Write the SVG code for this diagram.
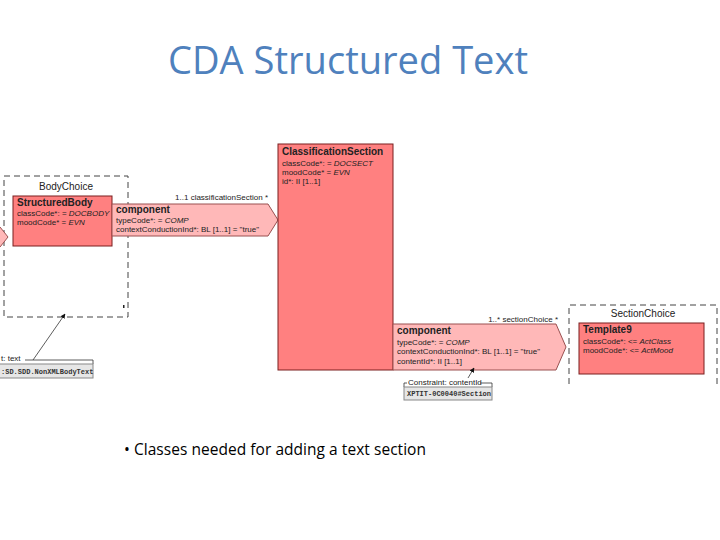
<svg xmlns="http://www.w3.org/2000/svg" width="720" height="540" viewBox="0 0 720 540">
<style>
.title{font-family:"Open Sans","Liberation Sans",sans-serif;font-size:38px;fill:#4F81BD}
.bullet{font-family:"Open Sans","Liberation Sans",sans-serif;font-size:15.5px;fill:#000}
.t{font-family:"Liberation Sans",Arial,sans-serif;font-size:8px;fill:#222}
.b{font-family:"Liberation Sans",Arial,sans-serif;font-size:10px;font-weight:bold;fill:#222}
.lbl{font-family:"Liberation Sans",Arial,sans-serif;font-size:10px;fill:#222}
.i{font-style:italic}
.m{font-family:"Liberation Mono","DejaVu Sans Mono",monospace;font-size:7px;font-weight:bold;fill:#333}
.cls{fill:#FF8080;stroke:#7a1f1f;stroke-width:1}
.assoc{fill:#FFB8B8;stroke:#9a5050;stroke-width:1}
.choice{fill:none;stroke:#444;stroke-width:1;stroke-dasharray:6,4}
.note{fill:#e6e6e6;stroke:#888;stroke-width:1}
.ln{stroke:#333;stroke-width:0.8;fill:none}
</style>
<defs>
<marker id="ah" viewBox="0 0 10 10" refX="9" refY="5" markerWidth="6" markerHeight="6" orient="auto">
<path d="M0,0 L10,5 L0,10 z" fill="#111"/>
</marker>
</defs>

<text class="title" x="348" y="74" text-anchor="middle" textLength="360" lengthAdjust="spacingAndGlyphs">CDA Structured Text</text>

<g id="bodyChoice">
<rect class="choice" x="4" y="176" width="124" height="141"/>
<text class="lbl" x="66" y="190" text-anchor="middle">BodyChoice</text>
<rect x="123" y="305" width="1.5" height="3" fill="#222"/>
</g>

<g id="leftArrowTip">
<path class="assoc" d="M-10,227 L0,227 L8,237 L0,247 L-10,247 z"/>
</g>

<g id="structuredBody">
<rect class="cls" x="13" y="196" width="99" height="50"/>
<text class="b" x="17" y="206">StructuredBody</text>
<text class="t" x="17" y="216">classCode*: = <tspan class="i">DOCBODY</tspan></text>
<text class="t" x="17" y="225">moodCode* = <tspan class="i">EVN</tspan></text>
</g>

<g id="component1">
<text class="t" x="268" y="200" text-anchor="end">1..1 classificationSection  *</text>
<path class="assoc" d="M112,204 L268,204 L278,220 L268,236 L112,236 z"/>
<text class="b" x="116" y="213">component</text>
<text class="t" x="116" y="223">typeCode*: = <tspan class="i">COMP</tspan></text>
<text class="t" x="116" y="232">contextConductionInd*: BL [1..1] = "true"</text>
</g>

<g id="classificationSection">
<rect class="cls" x="278" y="144" width="115" height="226"/>
<text class="b" x="282" y="155">ClassificationSection</text>
<text class="t" x="282" y="166">classCode*: = <tspan class="i">DOCSECT</tspan></text>
<text class="t" x="282" y="175">moodCode* = <tspan class="i">EVN</tspan></text>
<text class="t" x="282" y="184">id*: II [1..1]</text>
</g>

<g id="sectionChoice">
<path class="choice" d="M569,384 L569,305 L717,305 L717,384"/>
<text class="lbl" x="643" y="317" text-anchor="middle">SectionChoice</text>
</g>

<g id="template9">
<rect class="cls" x="579" y="323" width="125" height="51"/>
<text class="b" x="583" y="333">Template9</text>
<text class="t" x="583" y="344">classCode*: &lt;= <tspan class="i">ActClass</tspan></text>
<text class="t" x="583" y="353">moodCode*: &lt;= <tspan class="i">ActMood</tspan></text>
</g>

<g id="component2">
<text class="t" x="558" y="322" text-anchor="end">1..* sectionChoice  *</text>
<path class="assoc" d="M393,324 L556,324 L566,347 L556,370 L393,370 z"/>
<text class="b" x="397" y="334">component</text>
<text class="t" x="397" y="345">typeCode*: = <tspan class="i">COMP</tspan></text>
<text class="t" x="397" y="354">contextConductionInd*: BL [1..1] = "true"</text>
<text class="t" x="397" y="364">contentId*: II [1..1]</text>
</g>

<g id="noteContentId">
<path class="ln" d="M404,387 L404,383 L407,383"/>
<text class="t" x="408" y="385">Constraint: contentId</text>
<path class="ln" d="M480,383 L492,383 L492,387"/>
<rect class="note" x="404" y="387" width="88" height="13"/>
<text class="m" x="407" y="396">XPTIT-0C0040#Section</text>
</g>

<g id="noteText">
<text class="t" x="1" y="361">t: text</text>
<path class="ln" d="M25,360 L93,360 L93,364"/>
<rect class="note" x="-2" y="364" width="95" height="14"/>
<text class="m" x="1" y="374">:SD.SDD.NonXMLBodyText</text>
</g>

<g id="connectors">
<line class="ln" x1="468" y1="378" x2="474" y2="368" marker-end="url(#ah)"/>
<line class="ln" x1="33" y1="360" x2="65" y2="314" marker-end="url(#ah)"/>
</g>

<text class="bullet" x="124" y="455" textLength="302" lengthAdjust="spacing">• Classes needed for adding a text section</text>
</svg>
